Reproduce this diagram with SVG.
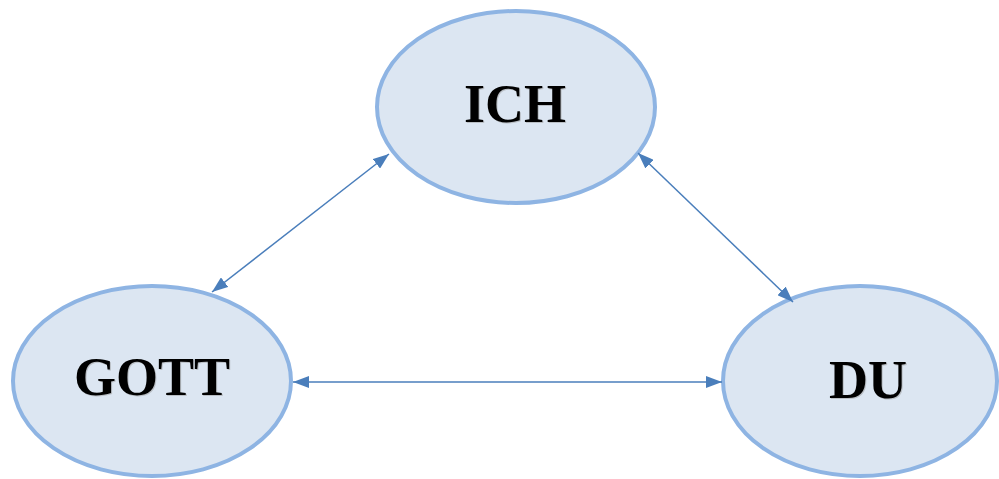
<svg xmlns="http://www.w3.org/2000/svg" width="999" height="479" viewBox="0 0 999 479">
<style>
.node ellipse{fill:#DCE6F2;stroke:#8EB4E3;stroke-width:4}
.lbl{font-family:"Liberation Serif","Times New Roman",serif;font-weight:bold;font-size:54px;fill:#000;text-anchor:middle}
.sh{fill:#999;opacity:0.5}
.conn line{stroke:#4A7EBB;stroke-width:1.5;marker-start:url(#ah);marker-end:url(#ah)}
</style>
<defs>
<marker id="ah" viewBox="0 0 16 12" refX="16" refY="6" markerWidth="16" markerHeight="12" markerUnits="userSpaceOnUse" orient="auto-start-reverse">
<path d="M0,0 L16,6 L0,12 Z" fill="#4A7EBB"/>
</marker>
</defs>
<rect width="999" height="479" fill="#fff"/>
<g id="ich" class="node">
<ellipse cx="516" cy="107" rx="139" ry="96"/>
<text class="lbl sh" x="516" y="123">ICH</text>
<text class="lbl" x="515" y="122">ICH</text>
</g>
<g id="gott" class="node">
<ellipse cx="152" cy="381" rx="139" ry="95"/>
<text class="lbl sh" x="153" y="396">GOTT</text>
<text class="lbl" x="152" y="395">GOTT</text>
</g>
<g id="du" class="node">
<ellipse cx="860" cy="381" rx="137" ry="95"/>
<text class="lbl sh" x="869" y="399">DU</text>
<text class="lbl" x="868" y="398">DU</text>
</g>
<g id="connectors" class="conn">
<line x1="389" y1="154" x2="212" y2="292"/>
<line x1="638" y1="153" x2="793" y2="302"/>
<line x1="293" y1="382" x2="722" y2="382"/>
</g>
</svg>
